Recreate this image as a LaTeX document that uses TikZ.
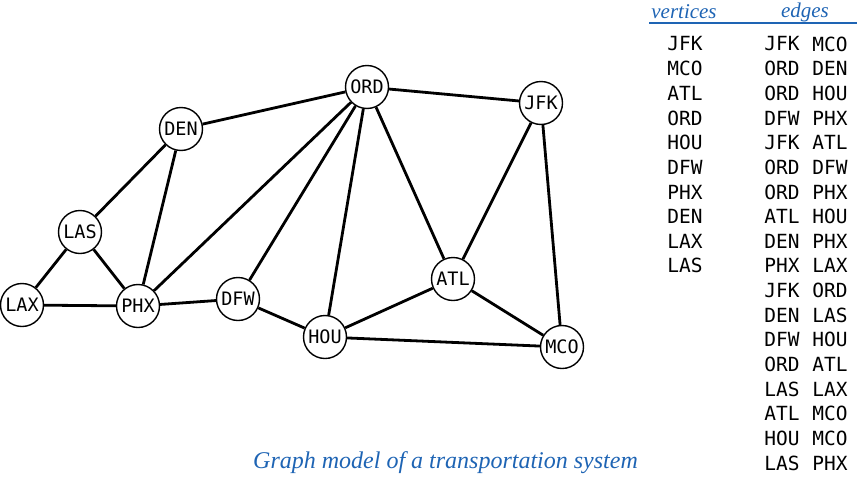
\documentclass[tikz,border=0pt]{standalone}
\usepackage{fontspec}
\newfontfamily\codefont{DejaVu Sans Mono}
\newfontfamily\capfont{Liberation Serif}
\definecolor{capblue}{RGB}{30,100,180}
\tikzset{
  city/.style={circle, draw, line width=1.4pt, fill=white, minimum size=43pt, inner sep=0pt, font=\codefont\fontsize{18.5}{18.5}\selectfont},
  route/.style={line width=2.8pt},
  code/.style={inner sep=0pt, anchor=center, font=\codefont\fontsize{19.5}{19.5}\selectfont},
  head/.style={inner sep=0pt, text=capblue, font=\capfont\itshape\fontsize{21}{21}\selectfont}
}
\begin{document}
\begin{tikzpicture}[x=1pt,y=-1pt]
\useasboundingbox (0,0) rectangle (857,477);
% vertices
\node[city] (ORD) at (367,87) {ORD};
\node[city] (JFK) at (541,103) {JFK};
\node[city] (DEN) at (181,129) {DEN};
\node[city] (LAS) at (80,232) {LAS};
\node[city] (LAX) at (22,305) {LAX};
\node[city] (PHX) at (138,306) {PHX};
\node[city] (DFW) at (238,299) {DFW};
\node[city] (HOU) at (325,337) {HOU};
\node[city] (ATL) at (453,279) {ATL};
\node[city] (MCO) at (562,347) {MCO};
% edges
\foreach \a/\b in {JFK/MCO,ORD/DEN,ORD/HOU,DFW/PHX,JFK/ATL,ORD/DFW,ORD/PHX,ATL/HOU,DEN/PHX,PHX/LAX,JFK/ORD,DEN/LAS,DFW/HOU,ORD/ATL,LAS/LAX,ATL/MCO,HOU/MCO,LAS/PHX}
  \draw[route] (\a) -- (\b);
% table header
\node[head] (hv) at (684,12) {vertices};
\node[head] (he) at (805,12) {edges};
\coordinate (rl) at (649,23);
\coordinate (rr) at (857,23);
\draw[capblue, line width=1.1pt] (rl) -- (rr);
% vertices list
\foreach \v [count=\i from 0] in {JFK,MCO,ATL,ORD,HOU,DFW,PHX,DEN,LAX,LAS}
  \node[code] (v\i) at (685,{44+24.65*\i}) {\v};
% edges list
\foreach \a/\b [count=\i from 0] in {JFK/MCO,ORD/DEN,ORD/HOU,DFW/PHX,JFK/ATL,ORD/DFW,ORD/PHX,ATL/HOU,DEN/PHX,PHX/LAX,JFK/ORD,DEN/LAS,DFW/HOU,ORD/ATL,LAS/LAX,ATL/MCO,HOU/MCO,LAS/PHX}
  {\node[code] (ea\i) at (782,{44+24.65*\i}) {\a};
   \node[code] (eb\i) at (830,{44+24.65*\i}) {\b};}
% caption
\node[head, anchor=west, font=\capfont\itshape\fontsize{24}{24}\selectfont] (cap) at (253,463) {Graph model of a transportation system};
\end{tikzpicture}
\end{document}
